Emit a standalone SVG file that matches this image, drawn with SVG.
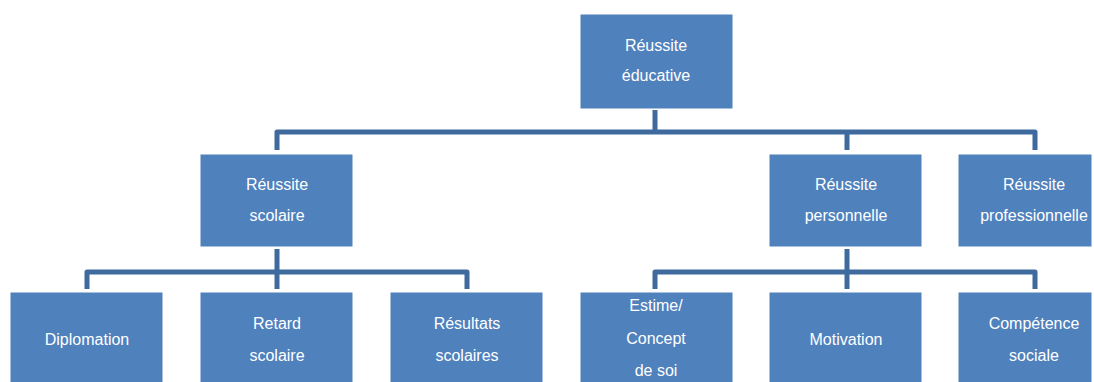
<svg xmlns="http://www.w3.org/2000/svg" width="1094" height="382" viewBox="0 0 1094 382">
<style>
.box{fill:#4F81BD;stroke:#FFFFFF;stroke-width:1}
.t{font-family:"Liberation Sans",Arial,sans-serif;font-size:16px;fill:#FFFFFF;text-anchor:middle}
.c{fill:none;stroke:#3F6A9E;stroke-width:5;stroke-linejoin:round}
</style>
<rect width="1094" height="382" fill="#FFFFFF"/>
<g id="connectors">
<path class="c" d="M655,110 V132"/>
<path class="c" d="M277,150 V132 H1035 V150"/>
<path class="c" d="M847,132 V150"/>
<path class="c" d="M277,249 V289"/>
<path class="c" d="M87,289 V272 H467 V289"/>
<path class="c" d="M847,249 V289"/>
<path class="c" d="M655,289 V272 H1035 V289"/>
</g>
<g id="n-root">
<rect class="box" x="580" y="14" width="153" height="95"/>
<text class="t" x="656" y="51">Réussite</text>
<text class="t" x="656" y="81">éducative</text>
</g>
<g id="n-scolaire">
<rect class="box" x="200" y="154" width="153" height="93"/>
<text class="t" x="277" y="190">Réussite</text>
<text class="t" x="277" y="221">scolaire</text>
</g>
<g id="n-personnelle">
<rect class="box" x="769" y="154" width="153" height="93"/>
<text class="t" x="846" y="190">Réussite</text>
<text class="t" x="846" y="221">personnelle</text>
</g>
<g id="n-professionnelle">
<rect class="box" x="958" y="154" width="134" height="93"/>
<text class="t" x="1034" y="190">Réussite</text>
<text class="t" x="1034" y="221">professionnelle</text>
</g>
<g id="n-diplomation">
<rect class="box" x="10" y="292" width="153" height="95"/>
<text class="t" x="87" y="345">Diplomation</text>
</g>
<g id="n-retard">
<rect class="box" x="200" y="292" width="153" height="95"/>
<text class="t" x="277" y="329">Retard</text>
<text class="t" x="277" y="361">scolaire</text>
</g>
<g id="n-resultats">
<rect class="box" x="390" y="292" width="153" height="95"/>
<text class="t" x="467" y="329">Résultats</text>
<text class="t" x="467" y="361">scolaires</text>
</g>
<g id="n-estime">
<rect class="box" x="580" y="292" width="153" height="95"/>
<text class="t" x="656" y="311">Estime/</text>
<text class="t" x="656" y="344">Concept</text>
<text class="t" x="656" y="376">de soi</text>
</g>
<g id="n-motivation">
<rect class="box" x="769" y="292" width="153" height="95"/>
<text class="t" x="846" y="345">Motivation</text>
</g>
<g id="n-competence">
<rect class="box" x="958" y="292" width="134" height="95"/>
<text class="t" x="1034" y="329">Compétence</text>
<text class="t" x="1034" y="361">sociale</text>
</g>
</svg>
